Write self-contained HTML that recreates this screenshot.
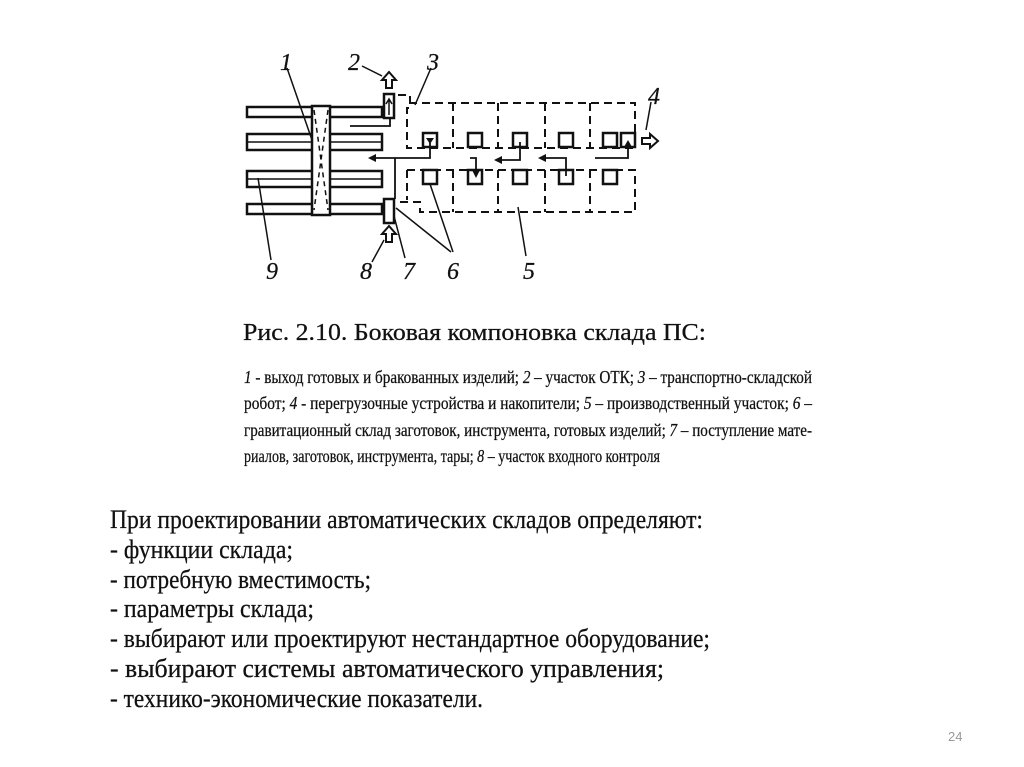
<!DOCTYPE html>
<html><head><meta charset="utf-8"><style>
html,body{margin:0;padding:0;background:#fff;}
svg{display:block}
text{font-family:"Liberation Serif","DejaVu Serif",serif;fill:#111;stroke:#111;stroke-width:0.25}
</style></head><body>
<svg width="1024" height="767" viewBox="0 0 1024 767" xmlns="http://www.w3.org/2000/svg">
<g stroke="#111" stroke-width="2.5" fill="none">
  <rect x="247" y="107" width="135" height="10"/>
  <rect x="247" y="134" width="135" height="16"/>
  <line x1="247" y1="142" x2="382" y2="142" stroke-width="1.5"/>
  <rect x="247" y="171" width="135" height="16"/>
  <line x1="247" y1="179" x2="382" y2="179" stroke-width="1.5"/>
  <rect x="247" y="204" width="135" height="10"/>
  <rect x="312" y="106" width="18" height="109" fill="#fff"/>
  <path d="M314 110 L328 210 M328 110 L314 210" stroke-dasharray="5,4" stroke-width="1.5"/>
  <rect x="384" y="94" width="10" height="24" fill="#fff"/>
  <rect x="384" y="199" width="10" height="24" fill="#fff"/>
  <path d="M389 115 L389 100 M386 104 L389 99 L392 104" stroke-width="1.5"/>
  <g stroke-dasharray="8,5" stroke-width="2">
    <path d="M398 95 L410 95 L410 108 L407 108 L407 148 L635 148 L635 103 L410 103"/>
    <path d="M407 170 L635 170 L635 212 L420 212 L420 202 L398 202"/>
    <path d="M407 170 L407 200"/>
    <line x1="453" y1="103" x2="453" y2="148"/><line x1="498" y1="103" x2="498" y2="148"/>
    <line x1="545" y1="103" x2="545" y2="148"/><line x1="590" y1="103" x2="590" y2="148"/>
    <line x1="453" y1="170" x2="453" y2="212"/><line x1="498" y1="170" x2="498" y2="212"/>
    <line x1="545" y1="170" x2="545" y2="212"/><line x1="590" y1="170" x2="590" y2="212"/>
  </g>
  <rect x="423" y="133" width="14" height="14"/><rect x="468" y="133" width="14" height="14"/>
  <rect x="513" y="133" width="14" height="14"/><rect x="559" y="133" width="14" height="14"/>
  <rect x="603" y="133" width="14" height="14"/><rect x="621" y="133" width="14" height="14"/>
  <rect x="423" y="170" width="14" height="14"/><rect x="468" y="170" width="14" height="14"/>
  <rect x="513" y="170" width="14" height="14"/><rect x="559" y="170" width="14" height="14"/>
  <rect x="603" y="170" width="14" height="14"/>
  <g stroke-width="1.8">
    <path d="M350 126 L390 126 L390 118"/>
    <path d="M430 142 L430 158 L395 158"/>
    <path d="M395 158 L395 199"/>
    <path d="M370 158 L395 158"/>
    <path d="M470 158 L476 158 L476 176"/>
    <path d="M520 142 L520 160 L496 160"/>
    <path d="M566 176 L566 158 L540 158"/>
    <path d="M595 158 L628 158 L628 142"/>
  </g>
  <g fill="#111" stroke="none">
    <path d="M368 158 L376 154 L376 162 Z"/>
    <path d="M494 160 L502 156 L502 164 Z"/>
    <path d="M538 158 L546 154 L546 162 Z"/>
    <path d="M476 178 L472 170 L480 170 Z"/>
    <path d="M430 144 L426 138 L434 138 Z"/>
    <path d="M628 140 L624 147 L632 147 Z"/>
  </g>
  <path d="M386 88 L386 80 L382 80 L389 72 L396 80 L392 80 L392 88 Z" stroke-width="2"/>
  <path d="M386 242 L386 234 L382 234 L389 226 L396 234 L392 234 L392 242 Z" stroke-width="2"/>
  <path d="M642 138 L650 138 L650 134 L658 141 L650 148 L650 144 L642 144 Z" stroke-width="2"/>
  <g stroke-width="1.5">
    <path d="M362 66 L382 76"/><path d="M431 68 L415 105"/>
    <path d="M287 68 L312 140"/><path d="M651 102 L646 130"/>
    <path d="M271 260 L258 178"/><path d="M372 262 L384 240"/>
    <path d="M405 258 L394 216"/>
    <path d="M451 252 L396 208"/><path d="M453 252 L430 184"/>
    <path d="M526 256 L518 207"/>
  </g>
</g>
<g font-style="italic" font-size="24">
  <text x="280" y="70">1</text><text x="348" y="70">2</text><text x="427" y="70">3</text>
  <text x="648" y="104">4</text><text x="523" y="279">5</text><text x="447" y="279">6</text>
  <text x="403" y="279">7</text><text x="360" y="279">8</text><text x="266" y="279">9</text>
</g>
<text x="243" y="340" font-size="24" textLength="463" lengthAdjust="spacingAndGlyphs">Рис. 2.10. Боковая компоновка склада ПС:</text>
<g font-size="18">
  <text x="244" y="383" textLength="568" lengthAdjust="spacingAndGlyphs"><tspan font-style="italic">1</tspan> - выход готовых и бракованных изделий; <tspan font-style="italic">2</tspan> – участок ОТК; <tspan font-style="italic">3</tspan> – транспортно-складской</text>
  <text x="244" y="409" textLength="568" lengthAdjust="spacingAndGlyphs">робот; <tspan font-style="italic">4</tspan> - перегрузочные устройства и накопители; <tspan font-style="italic">5</tspan> – производственный участок; <tspan font-style="italic">6</tspan> –</text>
  <text x="244" y="436" textLength="568" lengthAdjust="spacingAndGlyphs">гравитационный склад заготовок, инструмента, готовых изделий; <tspan font-style="italic">7</tspan> – поступление мате-</text>
  <text x="244" y="462" textLength="416" lengthAdjust="spacingAndGlyphs">риалов, заготовок, инструмента, тары; <tspan font-style="italic">8</tspan> – участок входного контроля</text>
</g>
<g font-size="26">
  <text x="110" y="528" textLength="593" lengthAdjust="spacingAndGlyphs">При проектировании автоматических складов определяют:</text>
  <text x="110" y="558" textLength="183" lengthAdjust="spacingAndGlyphs">- функции склада;</text>
  <text x="110" y="588" textLength="261" lengthAdjust="spacingAndGlyphs">- потребную вместимость;</text>
  <text x="110" y="617" textLength="204" lengthAdjust="spacingAndGlyphs">- параметры склада;</text>
  <text x="110" y="647" textLength="600" lengthAdjust="spacingAndGlyphs">- выбирают или проектируют нестандартное оборудование;</text>
  <text x="110" y="677" textLength="554" lengthAdjust="spacingAndGlyphs">- выбирают системы автоматического управления;</text>
  <text x="110" y="707" textLength="373" lengthAdjust="spacingAndGlyphs">- технико-экономические показатели.</text>
</g>
<text x="948" y="741" font-size="13" style="font-family:'Liberation Sans',sans-serif;fill:#999;stroke:none">24</text>
</svg>
</body></html>
